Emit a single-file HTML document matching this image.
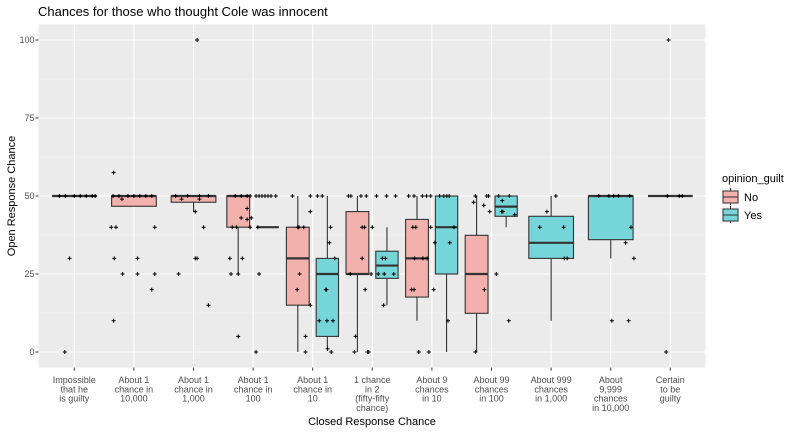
<!DOCTYPE html>
<html><head><meta charset="utf-8"><style>
body{margin:0;background:#fff;}
svg{display:block;font-family:"Liberation Sans",Arial,sans-serif;}
</style></head><body>
<svg id="chart" width="792" height="432" viewBox="0 0 792 432">
<rect x="0" y="0" width="792" height="432" fill="#fff"/>
<text x="38" y="16" font-size="13" fill="#000">Chances for those who thought Cole was innocent</text>
<g id="panel"></g>
<text transform="translate(15,196) rotate(-90)" text-anchor="middle" font-size="11" fill="#000">Open Response Chance</text>
<text x="372" y="425" text-anchor="middle" font-size="11" fill="#000">Closed Response Chance</text>
<g>
<text x="722" y="182" font-size="11" fill="#000">opinion_guilt</text>
<rect x="722" y="188" width="17" height="17" fill="#F2F2F2"/>
<rect x="723" y="191" width="15" height="12" fill="#F2B1AC" stroke="#333" stroke-width="1"/>
<line x1="723" y1="197" x2="738" y2="197" stroke="#333"/><line x1="730.5" y1="188" x2="730.5" y2="191" stroke="#333"/><line x1="730.5" y1="203" x2="730.5" y2="205" stroke="#333"/>
<text x="744" y="201" font-size="11" fill="#000">No</text>
<rect x="722" y="206" width="17" height="17" fill="#F2F2F2"/>
<rect x="723" y="209" width="15" height="12" fill="#76D5D8" stroke="#333" stroke-width="1"/>
<line x1="723" y1="215" x2="738" y2="215" stroke="#333"/><line x1="730.5" y1="206" x2="730.5" y2="209" stroke="#333"/><line x1="730.5" y1="221" x2="730.5" y2="223" stroke="#333"/>
<text x="744" y="219" font-size="11" fill="#000">Yes</text>
</g>
</svg>
<script>
const categories=[["Impossible","that he","is guilty"],["About 1","chance in","10,000"],["About 1","chance in","1,000"],["About 1","chance in","100"],["About 1","chance in","10"],["1 chance","in 2","(fifty-fifty","chance)"],["About 9","chances","in 10"],["About 99","chances","in 100"],["About 999","chances","in 1,000"],["About","9,999","chances","in 10,000"],["Certain","to be","guilty"]];
const yTicks=[0,25,50,75,100];
// boxes: [category, group(0 No,1 Yes,-1 single), lowerWhisker, q1, median, q3, upperWhisker]
const boxCat=[0,1,2,3,3,4,4,5,5,6,6,7,7,8,9,10];
const boxGroup=[-1,-1,-1,0,1,0,1,0,1,0,1,0,1,-1,-1,-1];
const boxFill=[0,0,0,0,1,0,1,0,1,0,1,0,1,1,1,1];
const boxLow=[50,46.7,45,25,40,0,1,0,15,10,0,0,40,10,30,50];
const boxQ1=[50,46.7,48,40,40,15,5,25,23.6,17.6,25,12.4,43.5,30,36,50];
const boxMed=[50,50,50,50,40,30,25,25,27.7,30,40,25,46.6,35,50,50];
const boxQ3=[50,50,50,50,40,40,30,45,32.3,42.5,50,37.4,50,43.5,50,50];
const boxHigh=[50,50,50,50,40,50,50,50,40,50,50,50,50,50,50,50];
// jittered points
const ptCat=[0,0,0,0,0,0,0,0,0, 1,1,1,1,1,1,1,1,1,1,1,1,1,1,1,1,1,1,1, 2,2,2,2,2,2,2,2,2,2,2,2,2, 3,3,3,3,3,3,3,3,3,3,3,3,3,3,3,3,3,3,3,3,3,3,3,3,3,3, 4,4,4,4,4,4,4,4,4,4,4,4,4,4,4,4,4,4,4,4,4,4,4, 5,5,5,5,5,5,5,5,5,5,5,5,5,5,5,5,5,5,5,5,5,5,5,5, 6,6,6,6,6,6,6,6,6,6,6,6,6,6,6,6,6,6,6,6,6,6,6,6, 7,7,7,7,7,7,7,7,7,7,7,7,7,7,7,7, 8,8,8,8,8,8, 9,9,9,9,9,9,9,9,9,9, 10,10,10,10,10];
const ptJit=[-0.25,-0.15,0,0.1,0.2,0.3,0.35,-0.08,-0.16, -0.35,-0.25,-0.1,0,0.1,0.2,0.3,-0.34,-0.38,-0.3,0.35,-0.33,0.06,-0.19,0.06,0.35,0.3,-0.34,-0.2, 0.06,0.03,0.17,0.03,0.06,-0.25,0.25,-0.3,-0.1,0.1,0.25,-0.2,0.1, -0.3,-0.2,-0.1,-0.05,0.05,0.1,0.15,0.2,0.25,0.3,0.38,-0.1,-0.2,-0.1,-0.35,-0.28,-0.05,-0.03,-0.39,-0.18,-0.37,-0.25,-0.25,0.05,0.08,0.1,0.22, -0.34,-0.25,-0.23,-0.15,-0.22,-0.26,-0.04,0.08,0.16,-0.04,0.3,0.28,0.37,0.23,0.11,0.24,0.34,0.25,0.31,-0.12,-0.12,-0.04,-0.3, -0.4,-0.36,-0.19,-0.1,-0.17,-0.13,-0.17,-0.37,-0.02,-0.28,-0.08,-0.06,-0.12,0,0.07,0.24,0.39,0.17,0.22,0.1,0.2,0.36,0.19,0.27, -0.39,-0.3,-0.16,-0.09,-0.02,-0.32,-0.27,-0.29,-0.15,-0.08,-0.34,-0.3,-0.22,-0.05,-0.02,0.03,0.13,0.2,0.25,0.29,0.37,0.3,0.05,0.29, -0.27,-0.08,-0.05,-0.3,-0.13,-0.03,0.08,-0.12,-0.27,0.12,0.18,0.3,0.17,0.19,0.39,0.21, 0.08,-0.07,-0.19,0.22,0.27,0.3, -0.2,-0.03,0.05,0.13,0.32,0.34,0.25,0.39,0.02,-0.07, -0.03,-0.05,0.15,0.2,0.18];
const ptVal=[50,50,50,50,50,50,50,30,0, 50,50,50,50,50,50,50,57.5,40,40,40,30,30,25,25,25,20,10,49, 100,45,40,30,30,25,15,50,50,50,50,49,49, 50,50,50,50,50,50,50,50,50,50,50,46,43,42.5,40,40,40,43,30,30,25,25,5,0,40,25,20, 50,40,40,40,25,20,50,50,50,45,40,35,30,20,10,10,10,1,0,0,5,15,0, 50,50,50,50,40,40,30,25,25,5,0,0,20,40,50,50,50,30,30,25,25,25,15,10, 50,50,50,50,50,40,40,30,30,30,20,20,0,0,40,20,50,50,50,50,40,35,35,10, 50,50,50,48,47,45,25,20,0,50,48.5,50,45,45,44,40, 50,45,40,30,30,10, 50,50,50,50,50,40,35,30,10,0, 100,50,50,50,30];

const NS="http://www.w3.org/2000/svg";
const P={l:38.5,r:705.5,t:24.4,b:367.6};
const step=59.6, x0=74.3;
const xPos=c=>x0+c*step;
const yPos=v=>352-v*3.12;
const g=document.getElementById('panel');
function mk(tag,attrs,parent){const e=document.createElementNS(NS,tag);for(const k in attrs)e.setAttribute(k,attrs[k]);(parent||g).appendChild(e);return e;}
const bg=mk('rect',{x:P.l,y:P.t,width:P.r-P.l,height:P.b-P.t,fill:'#EBEBEB'});


// minor y grid
for(let i=0;i<yTicks.length-1;i++){const v=(yTicks[i]+yTicks[i+1])/2;mk('line',{x1:P.l,x2:P.r,y1:yPos(v),y2:yPos(v),stroke:'#F5F5F5','stroke-width':0.6});}
yTicks.forEach(v=>{
  const l=mk('line',{x1:P.l,x2:P.r,y1:yPos(v),y2:yPos(v),stroke:'#fff','stroke-width':1.1});
  
  
  mk('line',{x1:P.l-3,x2:P.l,y1:yPos(v),y2:yPos(v),stroke:'#333','stroke-width':1});
  const t=mk('text',{x:P.l-4,y:yPos(v)+3,'text-anchor':'end','font-size':9,fill:'#4D4D4D'});
  t.textContent=v;
  
  
});
categories.forEach((lines,c)=>{
  const x=xPos(c);
  const l=mk('line',{x1:x,x2:x,y1:P.t,y2:P.b,stroke:'#fff','stroke-width':1.1});
  
  
  mk('line',{x1:x,x2:x,y1:P.b,y2:P.b+3,stroke:'#333','stroke-width':1});
  const t=mk('text',{x:x,y:383,'text-anchor':'middle','font-size':9,fill:'#4D4D4D'});
  
  
  lines.forEach((s,i)=>{const ts=mk('tspan',{x:x,y:383+i*9.3},t);ts.textContent=s;});
});
const fills=['#F2B1AC','#76D5D8'];
boxCat.forEach((c,i)=>{
  const cx=xPos(c);let a,b;
  if(boxGroup[i]<0){a=cx-22.3;b=cx+22.4;}else if(boxGroup[i]===0){a=cx-26.3;b=cx-3.5;}else{a=cx+3.5;b=cx+25.8;}
  const m=(a+b)/2;
  const grp=mk('g',{});
  
  
  mk('line',{x1:m,x2:m,y1:yPos(boxHigh[i]),y2:yPos(boxQ3[i]),stroke:'#333','stroke-width':1.1},grp);
  mk('line',{x1:m,x2:m,y1:yPos(boxQ1[i]),y2:yPos(boxLow[i]),stroke:'#333','stroke-width':1.1},grp);
  mk('rect',{x:a,y:yPos(boxQ3[i]),width:b-a,height:Math.max(0,yPos(boxQ1[i])-yPos(boxQ3[i])),fill:fills[boxFill[i]],stroke:'#333','stroke-width':1.1},grp);
  mk('line',{x1:a,x2:b,y1:yPos(boxMed[i]),y2:yPos(boxMed[i]),stroke:'#333','stroke-width':2.2},grp);
});
ptCat.forEach((c,i)=>{
  const x=xPos(c+ptJit[i]),y=yPos(ptVal[i]);
  const p=mk('path',{d:`M${x-2},${y}H${x+2}M${x},${y-2}V${y+2}`,stroke:'#000','stroke-width':1});
  
  
});
</script>
</body></html>
